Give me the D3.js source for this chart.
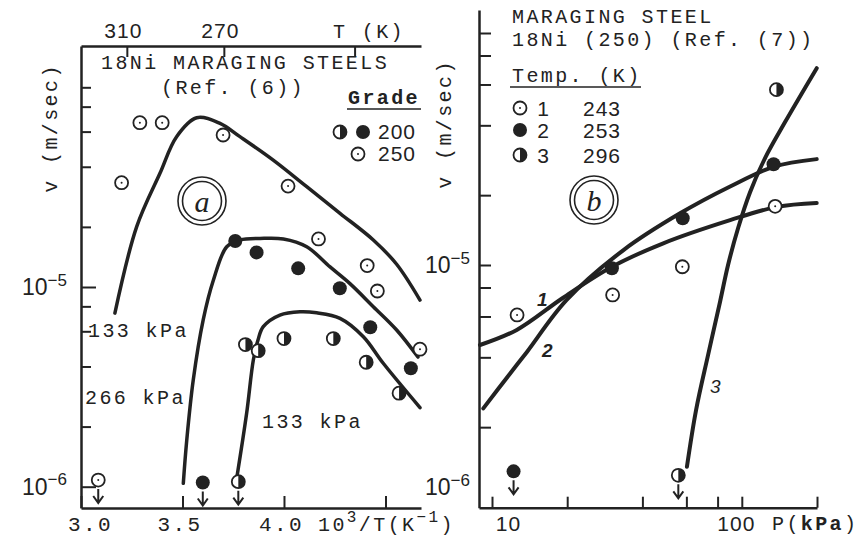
<!DOCTYPE html>
<html>
<head>
<meta charset="utf-8">
<script src="https://cdn.jsdelivr.net/npm/d3@7"></script>
<style>
  body { margin: 0; background: #fff; }
  svg { display: block; }
  .mono { font-family: "Liberation Mono", "DejaVu Sans Mono", monospace; fill: #222; letter-spacing: 2.4px; }
  .sans { font-family: "Liberation Sans", "DejaVu Sans", sans-serif; fill: #222; }
</style>
</head>
<body>
<div id="chart"></div>
<script>
// ---- panel (a): v vs 10^3/T ----
const tempTicks = [310, 270, 230];
const invTTicks = [3.0, 3.5, 4.0, 4.5];
const vTicksA = [1e-6, 2e-6, 4e-6, 6e-6, 8e-6, 1e-5, 2e-5, 4e-5, 6e-5, 8e-5, 1e-4];

const open250 = [[3.20, 3.33e-5], [3.29, 6.65e-5], [3.40, 6.65e-5], [3.70, 5.77e-5], [4.02, 3.2e-5],
                 [4.17, 1.74e-5], [4.41, 1.28e-5], [4.46, 9.55e-6], [4.67, 4.88e-6]];
const solid200 = [[3.76, 1.70e-5], [3.865, 1.49e-5], [4.07, 1.24e-5], [4.275, 9.85e-6], [4.425, 6.29e-6], [4.625, 3.92e-6]];
const half200 = [[3.81, 5.15e-6], [3.873, 4.8e-6], [4.0, 5.52e-6], [4.243, 5.52e-6], [4.405, 4.2e-6], [4.567, 2.94e-6]];
const limitA = [[3.085, 1.08e-6, 'open'], [3.60, 1.05e-6, 'solid'], [3.775, 1.06e-6, 'half']];

const curveTop133 = [[3.167, 7.4e-6], [3.274, 2.0e-5], [3.389, 3.71e-5], [3.471, 5.66e-5], [3.570, 7.04e-5],
                     [3.685, 6.6e-5], [3.783, 5.66e-5], [3.947, 4.32e-5], [4.112, 3.18e-5], [4.276, 2.34e-5],
                     [4.440, 1.72e-5], [4.555, 1.3e-5], [4.670, 8.6e-6]];
const curve266 = [[3.504, 1.04e-6], [3.521, 1.71e-6], [3.553, 3.42e-6], [3.602, 6.84e-6], [3.652, 1.08e-5],
                  [3.718, 1.59e-5], [3.783, 1.72e-5], [3.882, 1.75e-5], [3.997, 1.74e-5], [4.112, 1.59e-5],
                  [4.227, 1.26e-5], [4.325, 1.04e-5], [4.440, 7.97e-6], [4.555, 6.09e-6], [4.660, 4.46e-6]];
const curveLow133 = [[3.767, 1.10e-6], [3.816, 2.33e-6], [3.849, 4.31e-6], [3.872, 5.43e-6], [3.898, 6.33e-6],
                     [3.980, 7.24e-6], [4.079, 7.52e-6], [4.161, 7.43e-6], [4.276, 6.97e-6], [4.391, 5.64e-6],
                     [4.489, 4.15e-6], [4.670, 2.49e-6]];

// ---- panel (b): v vs P ----
const pTicks = [10, 20, 40, 60, 80, 100, 200];
const vTicksB = [1e-6, 2e-6, 4e-6, 6e-6, 8e-6, 1e-5, 2e-5, 4e-5, 6e-5, 8e-5, 1e-4];

const open243 = [[12.6, 6.09e-6], [30.4, 7.43e-6], [57.8, 9.83e-6], [136, 1.79e-5]];
const solid253 = [[30.2, 9.68e-6], [58, 1.59e-5], [134, 2.72e-5]];
const half296 = [[137.6, 5.7e-5]];
const limitB = [[12.2, 1.29e-6, 'solid'], [55.7, 1.24e-6, 'half']];

const curve1 = [[8.95, 4.52e-6], [12.56, 5.25e-6], [19.2, 7.21e-6], [30.1, 9.8e-6], [48.5, 1.24e-5],
                [89.8, 1.56e-5], [138, 1.78e-5], [199.5, 1.85e-5]];
const curve2 = [[9.23, 2.41e-6], [11.8, 3.4e-6], [13.8, 4.22e-6], [19.9, 7.07e-6], [33.6, 1.16e-5],
                [56.6, 1.67e-5], [89.8, 2.18e-5], [134, 2.65e-5], [199.5, 2.86e-5]];
const curve3 = [[60.3, 1.35e-6], [65.6, 2.37e-6], [73.3, 4.1e-6], [81.8, 6.93e-6], [88.1, 1.0e-5],
                [96.6, 1.44e-5], [107.9, 2.06e-5], [123.9, 2.89e-5], [149, 4.13e-5], [199.5, 7.05e-5]];

const INK = '#222';
const svg = d3.select('#chart').append('svg').attr('width', 857).attr('height', 547);
svg.append('rect').attr('width', 857).attr('height', 547).attr('fill', '#fff');

// scales
const xA = d3.scaleLinear().domain([3.0, 4.675]).range([81, 421]);
const yA0 = d3.scaleLog().domain([1e-6, 1e-5]).range([486.7, 287]);
const yA = yA0.copy().domain([yA0.invert(508), yA0.invert(46)]).range([508, 46]);

const xB0 = d3.scaleLog().domain([10, 100]).range([492, 741.7]);
const xB = xB0.copy().domain([xB0.invert(479), 200]).range([479, 817]);
const yB0 = d3.scaleLog().domain([1e-6, 1e-5]).range([497, 265]);
const yB = yB0.copy().domain([yB0.invert(507.7), yB0.invert(10)]).range([507.7, 10]);

function styleAxis(g) {
  g.select('.domain').attr('stroke', INK).attr('stroke-width', 2.5);
  g.selectAll('.tick line').attr('stroke', INK).attr('stroke-width', 2);
  g.selectAll('.tick text').attr('fill', INK);
}

function powerLabel(sel, shown) {
  sel.selectAll('.tick text').each(function(d) {
    const t = d3.select(this);
    t.text('');
    if (!shown.includes(d)) return;
    const e = Math.round(Math.log10(d));
    t.attr('class', 'sans').attr('font-size', 23);
    t.append('tspan').text('10');
    t.append('tspan').attr('dy', '-0.55em').attr('font-size', 17).text('\u2212' + (-e));
  });
}

// ---- axes panel a ----
const gxA = svg.append('g').attr('transform', 'translate(0,508)')
  .call(d3.axisBottom(xA).tickValues(invTTicks).tickSizeInner(-12).tickSizeOuter(0).tickPadding(8)
    .tickFormat(d => d === 4.5 ? '' : d.toFixed(1)));
gxA.selectAll('.tick text').attr('class', 'mono').attr('font-size', 21).attr('dx', d => d === 3.0 ? 9 : -3);
styleAxis(gxA);

const gtA = svg.append('g').attr('transform', 'translate(0,46)')
  .call(d3.axisTop(xA).tickValues(tempTicks.map(t => 1000 / t)).tickSizeInner(-11).tickSizeOuter(0).tickPadding(8)
    .tickFormat((d, i) => i < 2 ? tempTicks[i] : ''));
gtA.selectAll('.tick text').attr('class', 'sans').attr('font-size', 21).attr('dx', -4).attr('letter-spacing', 1);
styleAxis(gtA);

const gyA = svg.append('g').attr('transform', 'translate(81,0)')
  .call(d3.axisLeft(yA).tickValues(vTicksA).tickSizeInner(-10).tickSizeOuter(0).tickPadding(14).tickFormat(''));
gyA.selectAll('.tick line').attr('x2', d => (d === 1e-6 || d === 1e-5) ? 15 : 10);
powerLabel(gyA, [1e-6, 1e-5]);
styleAxis(gyA);

// ---- axes panel b ----
const gxB = svg.append('g').attr('transform', 'translate(0,507.7)')
  .call(d3.axisBottom(xB).tickValues(pTicks).tickSizeInner(-11).tickSizeOuter(0).tickPadding(8)
    .tickFormat(d => (d === 10 || d === 100) ? d : ''));
gxB.selectAll('.tick text').attr('class', 'sans').attr('font-size', 21).attr('letter-spacing', 1)
  .attr('dx', d => d === 10 ? 16 : -6);
styleAxis(gxB);

const gyB = svg.append('g').attr('transform', 'translate(479,0)')
  .call(d3.axisLeft(yB).tickValues(vTicksB).tickSizeInner(-12).tickSizeOuter(0).tickPadding(9).tickFormat(''));
gyB.selectAll('.tick line').attr('x2', d => d === 1e-6 ? 0 : 12);
powerLabel(gyB, [1e-6, 1e-5]);
gyB.selectAll('.tick text').filter(d => d === 1e-6).attr('y', -10);
styleAxis(gyB);

// ---- curves ----
function drawCurve(data, x, y, w) {
  svg.append('path').datum(data)
    .attr('d', d3.line().x(d => x(d[0])).y(d => y(d[1])).curve(d3.curveCatmullRom.alpha(0.5)))
    .attr('fill', 'none').attr('stroke', INK).attr('stroke-width', w).attr('stroke-linecap', 'round');
}
[curveTop133, curve266, curveLow133].forEach(c => drawCurve(c, xA, yA, 3.5));
[curve1, curve2, curve3].forEach(c => drawCurve(c, xB, yB, 4));

// ---- symbols ----
function drawSymbols(data, x, y, type) {
  const g = svg.append('g');
  data.forEach(d => symbol(g, x(d[0]), y(d[1]), type));
}
function symbol(g, cx, cy, type) {
  const r = 6.5;
  if (type === 'solid') {
    g.append('circle').attr('cx', cx).attr('cy', cy).attr('r', r + 0.5).attr('fill', INK);
    return;
  }
  g.append('circle').attr('cx', cx).attr('cy', cy).attr('r', r)
    .attr('fill', '#fff').attr('stroke', INK).attr('stroke-width', 1.8);
  if (type === 'half') {
    g.append('path').attr('d', `M${cx},${cy - r}A${r},${r} 0 0 1 ${cx},${cy + r}Z`).attr('fill', INK);
  } else {
    g.append('circle').attr('cx', cx).attr('cy', cy).attr('r', 1).attr('fill', INK);
  }
}
function drawLimits(data, x, y) {
  const g = svg.append('g');
  data.forEach(d => {
    const cx = x(d[0]), cy = y(d[1]);
    symbol(g, cx, cy, d[2]);
    g.append('path').attr('d', `M${cx},${cy + 9}V${cy + 23}M${cx - 5},${cy + 16}L${cx},${cy + 23}L${cx + 5},${cy + 16}`)
      .attr('fill', 'none').attr('stroke', INK).attr('stroke-width', 2);
  });
}
drawSymbols(open250, xA, yA, 'open');
drawSymbols(solid200, xA, yA, 'solid');
drawSymbols(half200, xA, yA, 'half');
drawLimits(limitA, xA, yA);
drawSymbols(open243, xB, yB, 'open');
drawSymbols(solid253, xB, yB, 'solid');
drawSymbols(half296, xB, yB, 'half');
drawLimits(limitB, xB, yB);

// ---- text ----
function mono(x, y, s, size) {
  return svg.append('text').attr('class', 'mono').attr('x', x).attr('y', y).attr('font-size', size || 20).text(s);
}
function sans(x, y, s, size) {
  return svg.append('text').attr('class', 'sans').attr('x', x).attr('y', y).attr('font-size', size || 21).text(s);
}

// panel a labels
mono(101, 69, '18Ni MARAGING STEELS');
mono(161, 94, '(Ref. (6))');
mono(348, 104, 'Grade').attr('font-weight', 'bold');
svg.append('line').attr('x1', 347).attr('x2', 421).attr('y1', 109).attr('y2', 109).attr('stroke', INK).attr('stroke-width', 1.5);
const legA = svg.append('g');
symbol(legA, 340, 132, 'half');
symbol(legA, 363, 132, 'solid');
symbol(legA, 358, 154, 'open');
sans(378, 139, '200').attr('letter-spacing', 1);
sans(378, 161, '250').attr('letter-spacing', 1);
mono(333, 38, 'T (K)');
mono(88, 337, '133 kPa');
mono(85, 404, '266 kPa');
mono(262, 428, '133 kPa');
mono(0, 0, 'v (m/sec)').attr('text-anchor', 'middle').attr('dy', '0.35em')
  .attr('transform', 'translate(50,128) rotate(-90)');
const xtA = mono(318, 531, '').attr('letter-spacing', 0.5);
xtA.append('tspan').text('10');
xtA.append('tspan').attr('dy', -9).attr('font-size', 16).text('3');
xtA.append('tspan').attr('dy', 9).text('/T(K');
xtA.append('tspan').attr('dy', -9).attr('font-size', 16).text('\u22121');
xtA.append('tspan').attr('dy', 9).text(')');

// panel b labels
mono(512, 23, 'MARAGING STEEL');
mono(512, 46, '18Ni (250) (Ref. (7))');
mono(512, 82, 'Temp. (K)');
svg.append('line').attr('x1', 510).attr('x2', 641).attr('y1', 87).attr('y2', 87).attr('stroke', INK).attr('stroke-width', 1.5);
const legB = svg.append('g');
[['open', '1', '243', 108], ['solid', '2', '253', 130], ['half', '3', '296', 155]].forEach(r => {
  symbol(legB, 520, r[3], r[0]);
  sans(543, r[3] + 8, r[1]).attr('text-anchor', 'middle');
  sans(583, r[3] + 8, r[2]).attr('letter-spacing', 1);
});
mono(0, 0, 'v (m/sec)').attr('text-anchor', 'middle').attr('dy', '0.35em')
  .attr('transform', 'translate(444,124) rotate(-90)');
const xtB = mono(772, 530, 'P(').attr('letter-spacing', 1);
xtB.append('tspan').attr('font-weight', 'bold').text('kPa');
xtB.append('tspan').text(')');
sans(537, 306, '1', 19).attr('font-style', 'italic').attr('font-weight', 'bold');
sans(542, 357, '2', 19).attr('font-style', 'italic').attr('font-weight', 'bold');
sans(710, 393, '3', 19).attr('font-style', 'italic');

// circled panel markers
[['a', 202, 201], ['b', 594, 200]].forEach(m => {
  const g = svg.append('g').attr('transform', `translate(${m[1]},${m[2]})`);
  g.append('circle').attr('r', 24).attr('fill', 'none').attr('stroke', INK).attr('stroke-width', 1.6);
  g.append('circle').attr('r', 19.5).attr('fill', 'none').attr('stroke', INK).attr('stroke-width', 1.6);
  g.append('text').attr('text-anchor', 'middle').attr('dy', '0.35em').attr('font-size', 30)
    .attr('font-family', '"Liberation Serif", serif').attr('font-style', 'italic').attr('fill', INK).text(m[0]);
});
</script>
</body>
</html>
